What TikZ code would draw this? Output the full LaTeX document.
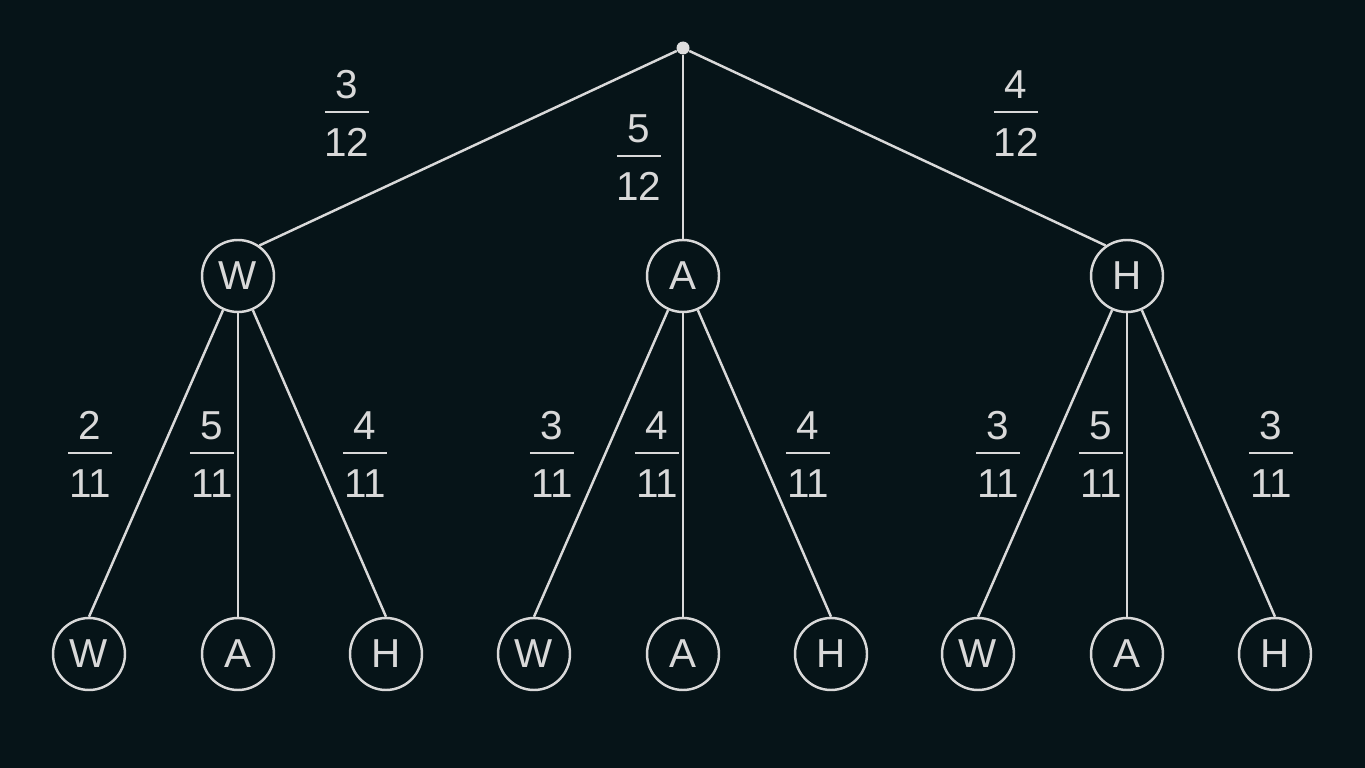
\documentclass[tikz,border=0pt]{standalone}
\usepackage{fontspec}
\setmainfont{Liberation Sans}
\usetikzlibrary{positioning}
\definecolor{bgcol}{HTML}{061418}
\definecolor{inkcol}{HTML}{D9D9D9}
\tikzset{
    node distance=2cm, % centre to centre, used with on grid
    ball/.style={ % the outcome circles
        circle,
        draw=inkcol,
        line width=1.4pt,
        minimum size=1.44cm,
        inner sep=0pt,
        text=inkcol,
        font=\fontsize{23}{27}\selectfont
    },
    rootdot/.style={circle, fill=inkcol!90, minimum size=0.26cm, inner sep=0pt},
    prob/.style={text=inkcol, inner sep=0pt, font=\fontsize{23}{27}\selectfont},
    every edge/.style={ % the branches
        draw=inkcol,
        line width=1.4pt
    },
}
\newcommand\fr[2]{\begin{tabular}{@{}c@{}}#1\\[-18.5pt]\rule{1.1em}{1.1pt}\\[-2pt]#2\end{tabular}}

\begin{document}
\begin{tikzpicture}[on grid]
            \fill[bgcol] (0,0) rectangle (27.3,-15.36);
            \node[rootdot]                  (top) at (13.66,-0.96) {};
            \node[ball, below=4.56cm of top] (A)   {A};
            \node[ball, left=8.9cm of A]     (W)   {W};
            \node[ball, right=8.88cm of A]   (H)   {H};
            \draw   (top) edge (W.55)
                    (top) edge (A)
                    (top) edge (H.125)
            ;
            \foreach \p in {W,A,H} {
                \node[ball, below=7.56cm of \p]  (\p A) {A};
                \node[ball, left=2.98cm of \p A]  (\p W) {W};
                \node[ball, right=2.96cm of \p A] (\p H) {H};
                \draw   (\p) edge (\p W.north)
                        (\p) edge (\p A.north)
                        (\p) edge (\p H.north)
                ;
            }
            % probabilities, placed by the fraction bar (+0.12cm)
            \foreach \x/\y/\n/\d/\nm in {
                    6.94/-2.36/3/12/pW, 12.78/-3.24/5/12/pA, 20.32/-2.36/4/12/pH,
                    1.80/-9.18/2/11/pWW, 4.24/-9.18/5/11/pWA, 7.30/-9.18/4/11/pWH,
                    11.04/-9.18/3/11/pAW, 13.14/-9.18/4/11/pAA, 16.16/-9.18/4/11/pAH,
                    19.96/-9.18/3/11/pHW, 22.02/-9.18/5/11/pHA, 25.42/-9.18/3/11/pHH} {
                \node[prob] (\nm) at (\x,\y) {\fr{\n}{\d}};
            }
\end{tikzpicture}
\end{document}
